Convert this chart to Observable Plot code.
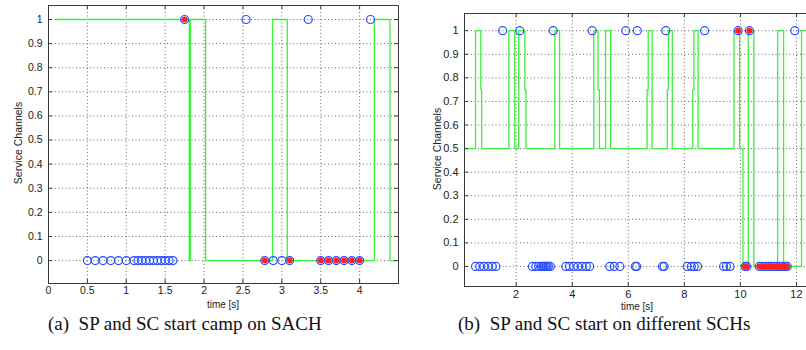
<!DOCTYPE html>
<html>
<head>
<meta charset="utf-8">
<script src="https://cdn.jsdelivr.net/npm/d3@7"></script>
<script src="https://cdn.jsdelivr.net/npm/@observablehq/plot@0.6"></script>
<style>
  html, body { margin: 0; padding: 0; background: #fff; }
  #wrap { position: relative; width: 806px; height: 350px; overflow: hidden; background: #fff; }
  .panel { position: absolute; top: 0; }
  .panel svg { max-width: none !important; }
  .xl { position: absolute; font: 10px "Liberation Sans", Arial, sans-serif; color: #222; transform: translateX(-50%); white-space: nowrap; }
  .yl { position: absolute; font: 10.5px "Liberation Sans", Arial, sans-serif; color: #222; transform: translate(-50%, -50%) rotate(-90deg); white-space: nowrap; }
  .cap { position: absolute; font: 19px "Liberation Serif", "Times New Roman", serif; color: #111; white-space: nowrap; }
</style>
</head>
<body>
<div id="wrap">
  <div class="panel" id="pa" style="left:0px; width:410px"></div>
  <div class="panel" id="pb" style="left:400px; width:420px"></div>
  <div class="yl" style="left:18px; top:143px">Service Channels</div>
  <div class="yl" style="left:437px; top:149px">Service Channels</div>
  <div class="xl" style="left:223px; top:299px">time [s]</div>
  <div class="xl" style="left:637px; top:301px">time [s]</div>
  <div class="cap" style="left:48px; top:313px">(a)&nbsp; SP and SC start camp on SACH</div>
  <div class="cap" style="left:458px; top:313px">(b)&nbsp; SP and SC start on different SCHs</div>
</div>
<script>
// ---------- Panel (a) data ----------
const xTicksA = [0, 0.5, 1, 1.5, 2, 2.5, 3, 3.5, 4];
const yTicks = [0, 0.1, 0.2, 0.3, 0.4, 0.5, 0.6, 0.7, 0.8, 0.9, 1];
// green channel trace (step-after: value holds from t until next t)
const greenA_t = [0.1, 1.81, 1.825, 2.02, 2.88, 3.07, 4.19, 4.39, 4.47];
const greenA_v = [1, 0, 1, 0, 1, 0, 1, 0, 0];
// blue circles (SP)
const blueA_t = [0.5, 0.6, 0.7, 0.8, 0.9, 1.0, 1.1, 1.15, 1.2, 1.25, 1.3, 1.35, 1.4, 1.45, 1.5, 1.55, 1.6,
                 1.75, 2.54, 3.34, 4.14,
                 2.78, 2.89, 3.0, 3.1,
                 3.5, 3.6, 3.7, 3.8, 3.9, 4.0];
const blueA_v = [0, 0, 0, 0, 0, 0, 0, 0, 0, 0, 0, 0, 0, 0, 0, 0, 0,
                 1, 1, 1, 1,
                 0, 0, 0, 0,
                 0, 0, 0, 0, 0, 0];
// red dots (SC)
const redA_t = [1.75, 2.78, 3.1, 3.5, 3.6, 3.7, 3.8, 3.9, 4.0];
const redA_v = [1, 0, 0, 0, 0, 0, 0, 0, 0];

// ---------- Panel (b) data ----------
const xTicksB = [2, 4, 6, 8, 10, 12];
const greenB_t = [0.16, 0.55, 0.74, 0.77, 1.74, 1.95, 2.09, 2.31, 2.35, 3.38, 3.55, 4.77, 4.92, 4.97, 5.19, 5.37,
                  6.67, 6.71, 6.85, 7.39, 7.43, 7.57, 8.30, 8.34, 8.49, 9.77, 9.97, 10.09, 10.28, 10.48,
                  11.33, 11.54, 12.18, 12.5];
const greenB_v = [0.5, 1, 0.75, 0.5, 1, 0.5, 1, 0.75, 0.5, 1, 0.5, 1, 0.75, 0.5, 1, 0.5,
                  0.75, 1, 0.5, 0.75, 1, 0.5, 0.75, 1, 0.5, 1, 0.5, 0, 1, 0,
                  1, 0, 1, 1];
const blueB_t = [1.52, 2.13, 3.32, 4.71, 5.91, 6.32, 7.34, 8.72, 9.92, 10.32, 11.94,
                 0.55, 0.7, 0.85, 1.0, 1.15, 1.28,
                 2.58, 2.7, 2.8, 2.9, 2.95, 3.0, 3.05, 3.1, 3.15, 3.22,
                 3.77, 3.9, 4.05, 4.2, 4.35, 4.5, 4.62,
                 5.34, 5.5, 5.7,
                 6.25, 6.3,
                 7.22, 7.28,
                 8.1, 8.25, 8.35, 8.47,
                 9.4, 9.5, 9.63,
                 10.17, 10.23,
                 10.67, 10.8, 10.9, 11.0, 11.1, 11.2, 11.3, 11.4, 11.5, 11.6, 11.67];
const blueB_v = [1, 1, 1, 1, 1, 1, 1, 1, 1, 1, 1,
                 0, 0, 0, 0, 0, 0,
                 0, 0, 0, 0, 0, 0, 0, 0, 0, 0,
                 0, 0, 0, 0, 0, 0, 0,
                 0, 0, 0,
                 0, 0,
                 0, 0,
                 0, 0, 0, 0,
                 0, 0, 0,
                 0, 0,
                 0, 0, 0, 0, 0, 0, 0, 0, 0, 0, 0];
const redB_t = [9.92, 10.32, 10.17, 10.23,
                10.67, 10.8, 10.9, 11.0, 11.1, 11.2, 11.3, 11.4, 11.5, 11.6, 11.67];
const redB_v = [1, 1, 0, 0, 0, 0, 0, 0, 0, 0, 0, 0, 0, 0, 0];

// ---------- drawing ----------
const GREEN = "#3df03d", BLUE = "#2a4dff", RED = "#ff2020", GRID = "#6a6a6a", FRAME = "#3a3a3a";
const fmt = d3.format("~g");
const zip = (t, v) => t.map((d, i) => ({t: d, v: v[i]}));

function panel({width, height, mL, mR, mT, mB, xDomain, yDomain, xTicks, green, blue, red, fontSize, xPad}) {
  const pw = width - mL - mR, ph = height - mT - mB, tl = 4;
  return Plot.plot({
    width, height,
    marginLeft: mL, marginRight: mR, marginTop: mT, marginBottom: mB,
    style: {fontSize, fontFamily: '"Liberation Sans", Arial, sans-serif', color: "#222", background: "#fff", overflow: "visible", maxWidth: "none"},
    x: {domain: xDomain, ticks: xTicks, tickFormat: fmt, tickSize: 0, tickPadding: xPad, label: null},
    y: {domain: yDomain, ticks: yTicks, tickFormat: fmt, tickSize: 0, tickPadding: 6, label: null},
    marks: [
      Plot.ruleX(xTicks, {x: d => d, stroke: GRID, strokeDasharray: "1,2.5", strokeWidth: 1}),
      Plot.ruleY(yTicks, {y: d => d, stroke: GRID, strokeDasharray: "1,2.5", strokeWidth: 1}),
      Plot.line(green, {x: "t", y: "v", curve: "step-after", stroke: GREEN, strokeWidth: 1.3}),
      Plot.dot(blue, {x: "t", y: "v", r: 4, stroke: BLUE, strokeWidth: 1.2, fill: "none"}),
      Plot.dot(red, {x: "t", y: "v", r: 3, fill: RED, stroke: "none"}),
      Plot.frame({stroke: FRAME, strokeWidth: 1}),
      Plot.ruleX(xTicks, {x: d => d, stroke: FRAME, insetTop: ph - tl}),
      Plot.ruleX(xTicks, {x: d => d, stroke: FRAME, insetBottom: ph - tl}),
      Plot.ruleY(yTicks, {y: d => d, stroke: FRAME, insetRight: pw - tl}),
      Plot.ruleY(yTicks, {y: d => d, stroke: FRAME, insetLeft: pw - tl})
    ]
  });
}

document.getElementById("pa").append(panel({
  width: 410, height: 300, mL: 48, mR: 12, mT: 5, mB: 17,
  xDomain: [0, 4.5], yDomain: [-0.095, 1.058], xTicks: xTicksA,
  green: zip(greenA_t, greenA_v), blue: zip(blueA_t, blueA_v), red: zip(redA_t, redA_v),
  fontSize: "10.5px", xPad: 3
}));
document.getElementById("pb").append(panel({
  width: 420, height: 300, mL: 64, mR: 10, mT: 13, mB: 14,
  xDomain: [0.157, 12.5], yDomain: [-0.085, 1.073], xTicks: xTicksB,
  green: zip(greenB_t, greenB_v), blue: zip(blueB_t, blueB_v), red: zip(redB_t, redB_v),
  fontSize: "11px", xPad: 4
}));
</script>
</body>
</html>
